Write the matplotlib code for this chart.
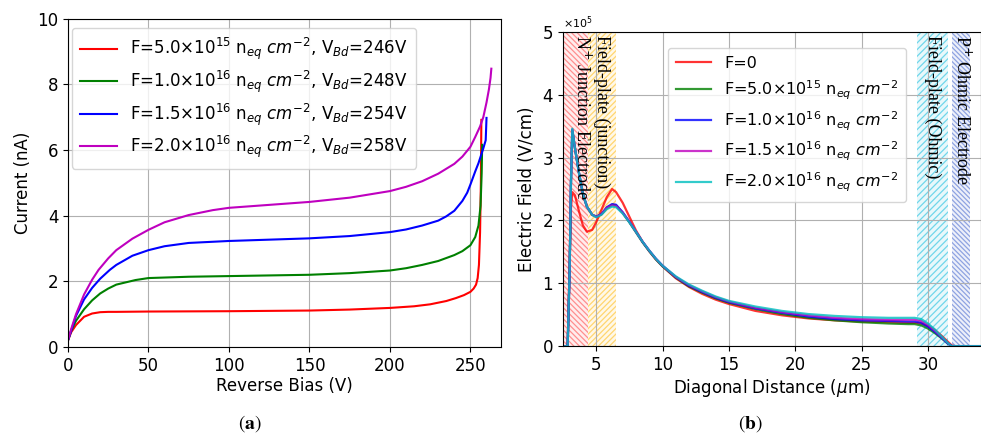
"""
Current vs reverse bias (a) and electric field profile (b).
"""

import matplotlib.pyplot as plt
from matplotlib.colors import to_rgba

# ---- panel (a): leakage current vs reverse bias ----
bias_red = [0, 2, 5, 10, 15, 20, 25, 30, 50, 100, 150, 175, 200, 215, 225, 235, 241, 246, 250, 252, 253.5, 254.5,
            255.3, 256, 256.5, 256.8]
cur_red = [0.2, 0.45, 0.67, 0.92, 1.02, 1.06, 1.07, 1.07, 1.08, 1.09, 1.11, 1.14, 1.19, 1.24, 1.3, 1.4, 1.49, 1.58,
           1.68, 1.78, 1.9, 2.1, 2.5, 3.5, 5.0, 6.92]

bias_green = [0, 2, 5, 10, 15, 20, 25, 30, 42, 50, 75, 100, 150, 175, 200, 210, 220, 230, 240, 245, 250, 253,
              255, 256.3, 257, 257.3]
cur_green = [0.2, 0.5, 0.8, 1.15, 1.42, 1.63, 1.78, 1.9, 2.04, 2.1, 2.14, 2.16, 2.2, 2.25, 2.33, 2.4, 2.5, 2.62,
             2.8, 2.92, 3.1, 3.35, 3.7, 4.3, 5.3, 6.16]

bias_blue = [0, 2, 5, 10, 15, 20, 26, 30, 40, 50, 60, 75, 100, 125, 150, 175, 200, 210, 220, 230, 235, 240, 245,
             248, 250, 253, 255, 258, 259.5, 260]
cur_blue = [0.2, 0.5, 0.95, 1.45, 1.8, 2.08, 2.35, 2.5, 2.78, 2.95, 3.07, 3.17, 3.23, 3.27, 3.31, 3.38, 3.5, 3.58,
            3.7, 3.85, 3.98, 4.15, 4.45, 4.7, 4.95, 5.35, 5.6, 6.05, 6.3, 6.98]

bias_mag = [0, 2, 5, 10, 15, 19, 25, 30, 40, 50, 60, 75, 90, 100, 125, 150, 175, 200, 210, 220, 230, 240, 245,
            250, 253, 256, 258, 260, 261.5, 262.5, 263]
cur_mag = [0.2, 0.55, 1.0, 1.6, 2.05, 2.35, 2.7, 2.95, 3.3, 3.57, 3.8, 4.02, 4.17, 4.24, 4.33, 4.42, 4.55, 4.75,
           4.88, 5.05, 5.28, 5.58, 5.8, 6.1, 6.4, 6.72, 7.0, 7.45, 7.85, 8.2, 8.48]

labels_a = [
    r'F=5.0$\times$10$^{15}$ n$_{eq}$ $cm^{-2}$, V$_{Bd}$=246V',
    r'F=1.0$\times$10$^{16}$ n$_{eq}$ $cm^{-2}$, V$_{Bd}$=248V',
    r'F=1.5$\times$10$^{16}$ n$_{eq}$ $cm^{-2}$, V$_{Bd}$=254V',
    r'F=2.0$\times$10$^{16}$ n$_{eq}$ $cm^{-2}$, V$_{Bd}$=258V',
]

# ---- panel (b): electric field along the diagonal (units of 1e5 V/cm) ----
dist = [2.7, 2.85, 3.0, 3.1, 3.2, 3.4, 3.7, 4.0, 4.3, 4.7, 5.0, 5.4, 5.8, 6.2, 6.5, 7.0, 7.5, 8.0, 8.5, 9.0, 9.5,
        10, 11, 12, 13, 14, 15, 17, 19, 21, 23, 25, 27, 28.5, 29, 29.5, 30, 30.5, 31, 31.5, 31.8, 32, 34]

field_f0 = [0, 0, 1.3, 2.2, 2.45, 2.4, 2.15, 1.92, 1.82, 1.85, 1.97, 2.17, 2.37, 2.5, 2.45, 2.28, 2.06, 1.84, 1.66,
            1.51, 1.38, 1.27, 1.08, 0.94, 0.83, 0.74, 0.67, 0.56, 0.49, 0.44, 0.41, 0.39, 0.38, 0.37, 0.37, 0.36,
            0.32, 0.26, 0.17, 0.07, 0.01, 0, 0]
field_5e15 = [0, 0, 1.2, 2.6, 3.43, 3.15, 2.76, 2.42, 2.22, 2.09, 2.06, 2.1, 2.2, 2.25, 2.24, 2.12, 1.97, 1.81, 1.65,
              1.51, 1.38, 1.27, 1.09, 0.95, 0.85, 0.76, 0.69, 0.59, 0.51, 0.45, 0.41, 0.38, 0.36, 0.35, 0.35, 0.33,
              0.28, 0.21, 0.13, 0.04, 0, 0, 0]
field_1e16 = [0, 0, 1.2, 2.6, 3.44, 3.15, 2.76, 2.42, 2.22, 2.09, 2.06, 2.1, 2.21, 2.26, 2.25, 2.13, 1.98, 1.82, 1.66,
              1.52, 1.39, 1.28, 1.1, 0.96, 0.86, 0.77, 0.7, 0.6, 0.53, 0.47, 0.43, 0.41, 0.4, 0.39, 0.39, 0.37,
              0.31, 0.23, 0.14, 0.04, 0, 0, 0]
field_15e16 = [0, 0, 1.2, 2.6, 3.45, 3.15, 2.76, 2.42, 2.22, 2.09, 2.06, 2.1, 2.2, 2.24, 2.23, 2.12, 1.98, 1.82, 1.66,
               1.52, 1.39, 1.28, 1.1, 0.97, 0.87, 0.78, 0.71, 0.61, 0.54, 0.49, 0.45, 0.43, 0.42, 0.42, 0.42, 0.4,
               0.34, 0.25, 0.15, 0.05, 0, 0, 0]
field_2e16 = [0, 0, 1.2, 2.6, 3.46, 3.15, 2.76, 2.42, 2.22, 2.09, 2.05, 2.09, 2.18, 2.22, 2.21, 2.11, 1.97, 1.82, 1.66,
              1.52, 1.39, 1.28, 1.11, 0.98, 0.88, 0.79, 0.72, 0.63, 0.56, 0.51, 0.48, 0.46, 0.45, 0.45, 0.45, 0.43,
              0.36, 0.27, 0.16, 0.05, 0, 0, 0]

labels_b = [
    'F=0',
    r'F=5.0$\times$10$^{15}$ n$_{eq}$ $cm^{-2}$',
    r'F=1.0$\times$10$^{16}$ n$_{eq}$ $cm^{-2}$',
    r'F=1.5$\times$10$^{16}$ n$_{eq}$ $cm^{-2}$',
    r'F=2.0$\times$10$^{16}$ n$_{eq}$ $cm^{-2}$',
]

# hatched device regions: (start, end, colour, hatch, label, label x)
regions = [
    (2.5, 4.4, '#ff5050', '\\' * 6, r'N$^{+}$ Junction Electrode', 3.9),
    (4.4, 6.5, '#ffbf20', '/' * 6, 'Field-plate (junction)', 5.45),
    (29.2, 31.5, '#20c0e0', '/' * 5, 'Field-plate (Ohmic)', 30.35),
    (31.8, 33.2, '#5070d0', '\\' * 7, r'P$^{+}$ Ohmic Electrode', 32.55),
]

FS = 12
plt.rcParams['font.size'] = FS
plt.rcParams['hatch.linewidth'] = 0.9

fig = plt.figure(figsize=(9.81, 4.37), dpi=100)

# ---------- (a) ----------
ax1 = fig.add_axes([0.0693, 0.206, 0.4414, 0.751])
ax1.plot(bias_red, cur_red, color='red', lw=1.5, label=labels_a[0])
ax1.plot(bias_green, cur_green, color='green', lw=1.5, label=labels_a[1])
ax1.plot(bias_blue, cur_blue, color='blue', lw=1.5, label=labels_a[2])
ax1.plot(bias_mag, cur_mag, color='m', lw=1.5, label=labels_a[3])
ax1.set_xlim(0, 269)
ax1.set_ylim(0, 10)
ax1.set_xticks([0, 50, 100, 150, 200, 250])
ax1.set_yticks([0, 2, 4, 6, 8, 10])
ax1.grid(True, color='#b0b0b0', lw=0.8)
ax1.set_xlabel('Reverse Bias (V)', labelpad=2)
ax1.set_ylabel('Current (nA)', labelpad=4)
ax1.legend(loc='upper left', bbox_to_anchor=(4 / 433, 1 - 9 / 328), borderaxespad=0,
           fontsize=FS, handlelength=2.2, labelspacing=0.38, borderpad=0.5)

# ---------- (b) ----------
ax2 = fig.add_axes([0.5739, 0.208, 0.4261, 0.719])
for x0, x1, col, hatch, txt, tx in regions:
    ax2.axvspan(x0, x1, facecolor=to_rgba(col, 0.1), edgecolor=to_rgba(col, 0.6), hatch=hatch, lw=0, zorder=1)
    ax2.text(tx, 4.95e5, txt, rotation=270, ha='center', va='top', family='Liberation Serif',
             fontsize=13, zorder=3)

series_b = [field_f0, field_5e15, field_1e16, field_15e16, field_2e16]
colors_b = ['red', 'green', 'blue', 'm', 'c']
for vals, col, lab in zip(series_b, colors_b, labels_b):
    ax2.plot(dist, [v * 1e5 for v in vals], color=col, lw=1.6, alpha=0.8, label=lab, zorder=2)

ax2.set_xlim(2.5, 34)
ax2.set_ylim(0, 5e5)
ax2.set_xticks([5, 10, 15, 20, 25, 30])
ax2.ticklabel_format(style='sci', axis='y', scilimits=(0, 0), useMathText=True)
ax2.yaxis.get_offset_text().set_fontsize(8)
ax2.grid(True, color='#b0b0b0', lw=0.8)
ax2.set_xlabel(r'Diagonal Distance ($\mu$m)', labelpad=2)
ax2.set_ylabel('Electric Field (V/cm)', labelpad=4)
ax2.legend(loc='upper right', bbox_to_anchor=(0.8206, 0.949), borderaxespad=0, fontsize=11.5,
           handlelength=2.2, labelspacing=0.47, borderpad=0.5)

# panel tags
fig.text(0.255, 0.03, r'$(\mathbf{a})$', ha='center', va='center', fontsize=14, math_fontfamily='stix')
fig.text(0.765, 0.03, r'$(\mathbf{b})$', ha='center', va='center', fontsize=14, math_fontfamily='stix')

plt.savefig('out.png')
